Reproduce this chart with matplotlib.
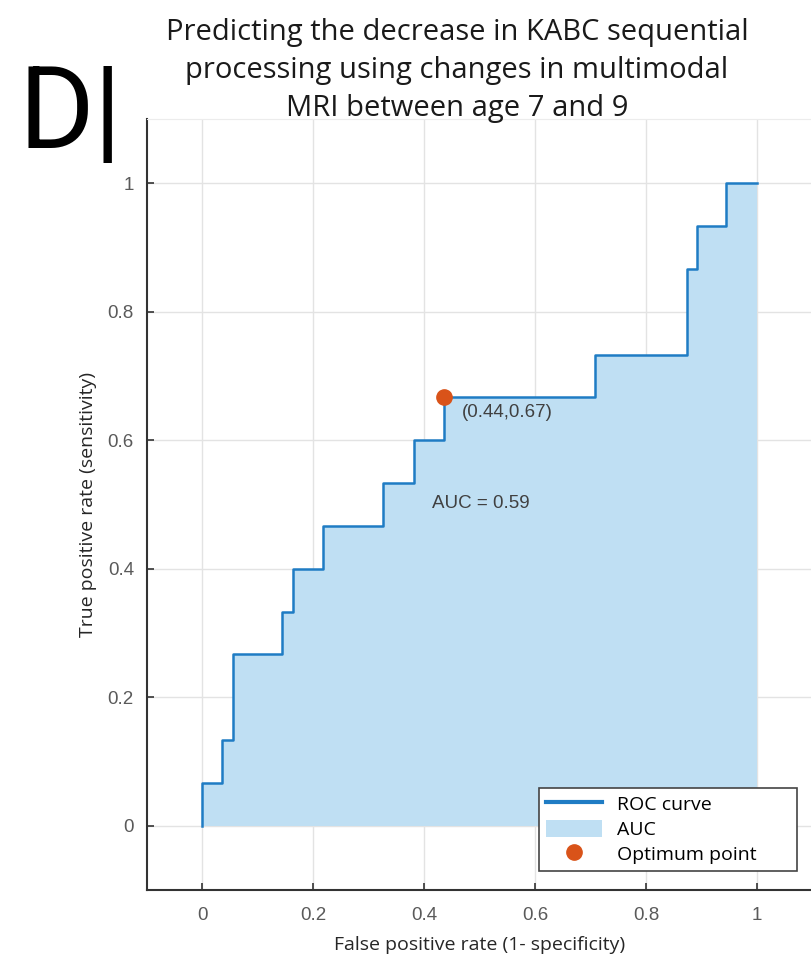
import numpy as np
import matplotlib
matplotlib.use('Agg')
import matplotlib.pyplot as plt
from matplotlib.lines import Line2D
from matplotlib.patches import Patch

# ROC curve corners (false positive rate, true positive rate)
fpr = [0, 0, 0.036, 0.036, 0.055, 0.055, 0.145, 0.145, 0.164, 0.164, 0.218, 0.218,
       0.327, 0.327, 0.382, 0.382, 0.436, 0.436, 0.709, 0.709, 0.873, 0.873,
       0.891, 0.891, 0.945, 0.945, 1.0]
tpr = [0, 0.067, 0.067, 0.133, 0.133, 0.267, 0.267, 0.333, 0.333, 0.4, 0.4, 0.467,
       0.467, 0.533, 0.533, 0.6, 0.6, 0.667, 0.667, 0.733, 0.733, 0.867,
       0.867, 0.933, 0.933, 1.0, 1.0]
opt_point = (0.436, 0.667)
opt_label = '(0.44,0.67)'
auc_label = 'AUC = 0.59'
ticks = [0, 0.2, 0.4, 0.6, 0.8, 1]
tick_labels = ['0', '0.2', '0.4', '0.6', '0.8', '1']

ui_font = ['Open Sans', 'DejaVu Sans']
ax_font = ['Liberation Sans', 'DejaVu Sans']

line_col = '#1f7cc4'
fill_col = '#bfdff3'
dot_col = '#d95319'

fig = plt.figure(figsize=(8.11, 9.58), dpi=100)
ax = fig.add_axes([146.5/811, 1 - 890.3/958, 666/811, 771.6/958])

ax.fill_between(fpr, tpr, 0, color=fill_col, lw=0, zorder=1)
ax.plot(fpr, tpr, color=line_col, lw=1.8, zorder=2)
ax.plot([opt_point[0]], [opt_point[1]], 'o', color=dot_col, ms=11, zorder=3)

ax.text(0.468, 0.643, opt_label, fontsize=13.5, family=ax_font, color='#404040',
        va='center', ha='left')
ax.text(0.414, 0.502, auc_label, fontsize=13.5, family=ax_font, color='#404040',
        va='center', ha='left')

ax.set_xlim(-0.1, 1.1)
ax.set_ylim(-0.1, 1.1)
ax.set_xticks(ticks)
ax.set_xticklabels(tick_labels, family=ax_font, fontsize=13.5, color='#5a5a5a')
ax.set_yticks(ticks)
ax.set_yticklabels(tick_labels, family=ax_font, fontsize=13.5, color='#5a5a5a')
ax.tick_params(direction='in', length=5, width=1.2, color='#333333', pad=9)
ax.tick_params(axis='x', pad=12)

ax.grid(True, color='#e3e3e3', lw=1)
ax.set_axisbelow(True)
for s in ['left', 'bottom']:
    ax.spines[s].set_color('#333333')
    ax.spines[s].set_linewidth(1.5)
ax.spines['top'].set_color('#ececec')
ax.spines['right'].set_color('#ececec')

ax.set_xlabel('False positive rate (1- specificity)', family=ui_font, fontsize=14,
              color='#262626', labelpad=9)
ax.set_ylabel('True positive rate (sensitivity)', family=ui_font, fontsize=14,
              color='#262626', labelpad=8)

handles = [Line2D([], [], color=line_col, lw=3),
           Patch(facecolor=fill_col, edgecolor='none'),
           Line2D([], [], ls='none', marker='o', color=dot_col, ms=11)]
leg = ax.legend(handles, ['ROC curve', 'AUC', 'Optimum point'],
                loc='upper left',
                bbox_to_anchor=(539/811, 1 - 872/958, 258/811, 84/958),
                mode='expand', bbox_transform=fig.transFigure, borderaxespad=0,
                prop={'family': ui_font, 'size': 14}, frameon=True, fancybox=False,
                framealpha=1, handlelength=2.9, handleheight=1.0, handletextpad=0.75,
                labelspacing=0.28, borderpad=0.35)
leg.get_frame().set_edgecolor('#444444')
leg.get_frame().set_linewidth(1.2)

fig.text(457/811, 1 - 18/958,
         'Predicting the decrease in KABC sequential\nprocessing using changes in multimodal\nMRI between age 7 and 9',
         family=ui_font, fontsize=21, ha='center', va='top', color='#1a1a1a',
         linespacing=1.42)
fig.text(18/811, 1 - 148/958, 'D|', family=['Roboto', 'DejaVu Sans'], fontsize=83,
         ha='left', va='baseline', color='black')

fig.savefig('out.png', dpi=100)
